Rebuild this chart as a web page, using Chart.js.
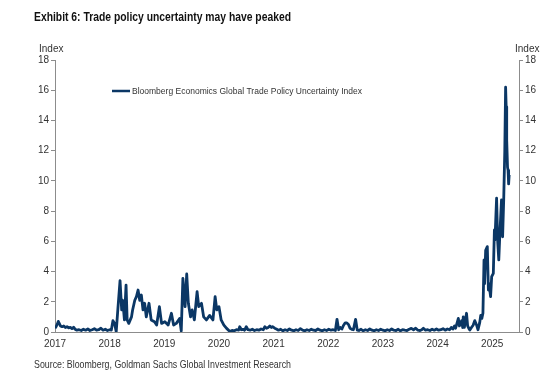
<!DOCTYPE html>
<html>
<head>
<meta charset="utf-8">
<script src="https://cdn.jsdelivr.net/npm/chart.js@4.4.1/dist/chart.umd.min.js"></script>
<style>
  body { margin:0; background:#fff; }
  #wrap { position:relative; width:560px; height:383px; overflow:hidden; }
  #c { position:absolute; left:0; top:0; }
  .txt { position:absolute; white-space:nowrap; transform-origin:left top; }
  #title { left:34px; top:9px; font:bold 13px "Liberation Sans", Arial, sans-serif; color:#111; }
  #source { left:34px; top:358px; font:11px "Liberation Sans", Arial, sans-serif; color:#333; }
  #idxL { left:39px; top:43px; font:10px "Liberation Sans", Arial, sans-serif; color:#333; }
  #idxR { left:515px; top:43px; font:10px "Liberation Sans", Arial, sans-serif; color:#333; }
</style>
</head>
<body>
<div id="wrap">
  <canvas id="c" width="560" height="383"></canvas>
  <div id="title" class="txt">Exhibit 6: Trade policy uncertainty may have peaked</div>
  <div id="source" class="txt">Source: Bloomberg, Goldman Sachs Global Investment Research</div>
  <div id="idxL" class="txt">Index</div>
  <div id="idxR" class="txt">Index</div>
</div>
<script>
// ---- Data (decimal years, index values) ----
const seriesLabel = "Bloomberg Economics Global Trade Policy Uncertainty Index";
const dates = [
 2017.00,2017.02,2017.04,2017.06,2017.08,2017.10,2017.13,2017.16,2017.19,2017.22,2017.25,2017.28,2017.31,2017.34,2017.37,2017.40,2017.44,2017.48,2017.52,2017.56,2017.60,2017.64,2017.68,2017.72,2017.76,2017.80,2017.84,2017.88,2017.92,2017.96,2018.00,2018.03,
 2018.06,2018.09,2018.12,2018.15,2018.19,2018.22,2018.24,2018.27,2018.30,2018.32,2018.35,2018.40,2018.42,2018.46,2018.49,2018.52,2018.55,2018.58,2018.61,2018.64,2018.67,2018.72,2018.76,2018.82,2018.86,2018.91,2018.95,
 2019.01,2019.07,2019.13,2019.17,2019.22,2019.28,2019.31,2019.34,2019.38,2019.41,2019.44,2019.48,2019.51,2019.55,2019.60,2019.63,2019.68,2019.72,2019.77,2019.83,2019.89,2019.93,2019.96,
 2020.00,2020.04,2020.09,2020.14,2020.20,2020.24,2020.28,2020.32,2020.36,2020.38,2020.41,2020.44,2020.47,2020.50,2020.53,2020.57,2020.61,2020.65,2020.69,2020.73,2020.77,2020.81,2020.84,2020.87,2020.90,2020.93,2020.96,2020.98,
 2021.02,2021.05,2021.09,2021.13,2021.17,2021.21,2021.25,2021.29,2021.33,2021.37,2021.41,2021.45,2021.49,2021.53,2021.57,2021.61,2021.65,2021.69,2021.73,2021.77,2021.81,2021.85,2021.89,2021.93,2021.97,
 2022.01,2022.05,2022.09,2022.13,2022.16,2022.19,2022.22,2022.25,2022.28,2022.31,2022.34,2022.37,2022.40,2022.43,2022.46,2022.50,2022.53,2022.56,2022.60,2022.64,2022.68,2022.72,2022.76,2022.80,2022.84,2022.88,2022.92,2022.96,
 2023.00,2023.04,2023.08,2023.12,2023.16,2023.20,2023.24,2023.28,2023.32,2023.36,2023.40,2023.44,2023.48,2023.52,2023.56,2023.60,2023.64,2023.68,2023.71,2023.74,2023.78,2023.82,2023.86,2023.90,2023.94,2023.98,
 2024.02,2024.06,2024.10,2024.14,2024.18,2024.22,2024.25,2024.28,2024.31,2024.33,2024.35,2024.38,2024.40,2024.42,2024.44,2024.46,2024.47,2024.49,2024.53,2024.55,2024.57,2024.59,2024.62,2024.65,2024.68,2024.71,2024.74,2024.77,2024.79,2024.81,2024.83,2024.85,2024.86,2024.88,2024.91,2024.93,2024.94,2024.97,2024.99,
 2025.02,2025.04,2025.05,2025.08,2025.10,2025.12,2025.14,2025.17,2025.19,2025.21,2025.23,2025.245,2025.255,2025.265,2025.28,2025.29,2025.30,2025.31
];
const values = [
 0.25,0.35,0.5,0.7,0.55,0.4,0.35,0.4,0.3,0.35,0.28,0.3,0.22,0.32,0.18,0.12,0.15,0.1,0.18,0.12,0.2,0.1,0.15,0.22,0.12,0.15,0.25,0.12,0.18,0.1,0.15,0.12,
 0.75,0.57,0.02,1.5,3.4,1.46,2.1,0.8,3.1,0.8,0.57,1.0,1.46,2.1,2.34,2.78,2.1,2.45,1.46,1.9,1.0,1.9,0.8,0.68,0.46,1.68,0.57,
 0.68,0.46,1.24,0.46,0.57,0.9,0.07,3.55,1.68,3.84,1.9,1.0,1.46,0.8,2.67,1.68,1.9,1.0,0.8,1.1,0.8,2.34,1.46,
 1.68,0.8,0.46,0.24,0.03,0.1,0.08,0.15,0.12,0.35,0.15,0.18,0.12,0.35,0.15,0.12,0.18,0.1,0.15,0.12,0.2,0.15,0.35,0.25,0.3,0.4,0.3,0.35,
 0.25,0.2,0.12,0.18,0.08,0.15,0.1,0.2,0.12,0.08,0.15,0.1,0.22,0.12,0.08,0.15,0.1,0.18,0.12,0.1,0.2,0.12,0.08,0.15,0.1,
 0.18,0.12,0.15,0.1,0.84,0.15,0.3,0.2,0.45,0.6,0.6,0.5,0.24,0.18,0.15,0.84,0.13,0.1,0.18,0.08,0.15,0.1,0.2,0.12,0.08,0.15,0.1,0.18,
 0.12,0.08,0.15,0.1,0.2,0.12,0.1,0.18,0.08,0.15,0.12,0.1,0.18,0.24,0.15,0.25,0.12,0.1,0.15,0.25,0.12,0.15,0.1,0.18,0.12,0.2,
 0.12,0.15,0.22,0.12,0.2,0.15,0.3,0.2,0.4,0.25,0.5,0.9,0.4,0.55,0.75,0.3,1.0,0.3,1.24,0.4,0.25,0.13,0.3,0.45,0.75,0.5,0.15,0.6,1.1,0.9,1.25,4.77,3.2,5.4,5.65,2.78,3.2,2.34,3.66,
 3.88,6.75,6.1,8.85,6.0,4.77,6.5,8.74,6.3,8.74,12.0,16.2,14.9,12.7,10.9,10.7,9.8,10.4
];
const yearTicks = [2017,2018,2019,2020,2021,2022,2023,2024,2025];
const yTicks = [0,2,4,6,8,10,12,14,16,18];

const lineColor = '#0b3765';
const axisColor = '#8c8c8c';
const textColor = '#333333';
const tickFont = { family: '"Liberation Sans", Arial, sans-serif', size: 10 };

const points = dates.map((d, i) => ({ x: d, y: values[i] }));

const legendPlugin = {
  id: 'insideLegend',
  afterDatasetsDraw(chart) {
    const ctx = chart.ctx;
    const a = chart.chartArea;
    const ds = chart.data.datasets[0];
    const y = a.top + 31;
    const x0 = a.left + 57;
    ctx.save();
    ctx.strokeStyle = ds.borderColor;
    ctx.lineWidth = 2.5;
    ctx.beginPath();
    ctx.moveTo(x0, y);
    ctx.lineTo(x0 + 18, y);
    ctx.stroke();
    ctx.fillStyle = textColor;
    ctx.font = '9.5px "Liberation Sans", Arial, sans-serif';
    ctx.textBaseline = 'middle';
    ctx.textAlign = 'left';
    ctx.fillText(ds.label, x0 + 20, y + 0.5, 230);
    ctx.restore();
  }
};

new Chart(document.getElementById('c'), {
  type: 'line',
  data: {
    datasets: [{
      label: seriesLabel,
      data: points,
      borderColor: lineColor,
      borderWidth: 2.8,
      pointRadius: 0,
      tension: 0,
      borderJoinStyle: 'round',
      fill: false
    }]
  },
  options: {
    responsive: false,
    animation: false,
    devicePixelRatio: 1,
    parsing: true,
    layout: { padding: { top: 60, left: 0, right: 0, bottom: 0 } },
    plugins: { legend: { display: false }, tooltip: { enabled: false }, title: { display: false } },
    scales: {
      x: {
        type: 'linear',
        min: 2017,
        max: 2025.49,
        afterFit(s) { s.height = 51; },
        afterBuildTicks(s) { s.ticks = yearTicks.map(v => ({ value: v })); },
        ticks: { color: textColor, font: tickFont, padding: 6, maxRotation: 0, autoSkip: false,
                 callback: v => String(v) },
        grid: { display: false, drawTicks: false },
        border: { display: true, color: axisColor, width: 1 }
      },
      y: {
        position: 'left',
        min: 0, max: 18,
        afterFit(s) { s.width = 55; },
        afterBuildTicks(s) { s.ticks = yTicks.map(v => ({ value: v })); },
        ticks: { color: textColor, font: tickFont, padding: 2 },
        grid: { display: true, drawOnChartArea: false, drawTicks: true, tickLength: 4, color: axisColor },
        border: { display: true, color: axisColor, width: 1 }
      },
      y2: {
        position: 'right',
        min: 0, max: 18,
        afterFit(s) { s.width = 41; },
        afterBuildTicks(s) { s.ticks = yTicks.map(v => ({ value: v })); },
        ticks: { color: textColor, font: tickFont, padding: 2 },
        grid: { display: true, drawOnChartArea: false, drawTicks: true, tickLength: 4, color: axisColor },
        border: { display: true, color: axisColor, width: 1 }
      }
    }
  },
  plugins: [legendPlugin]
});

// fit condensed text widths to the reference
function fitWidth(id, w) {
  const el = document.getElementById(id);
  const cur = el.getBoundingClientRect().width;
  if (cur > 0) el.style.transform = 'scaleX(' + (w / cur) + ')';
}
fitWidth('title', 257);
fitWidth('source', 257);
</script>
</body>
</html>
